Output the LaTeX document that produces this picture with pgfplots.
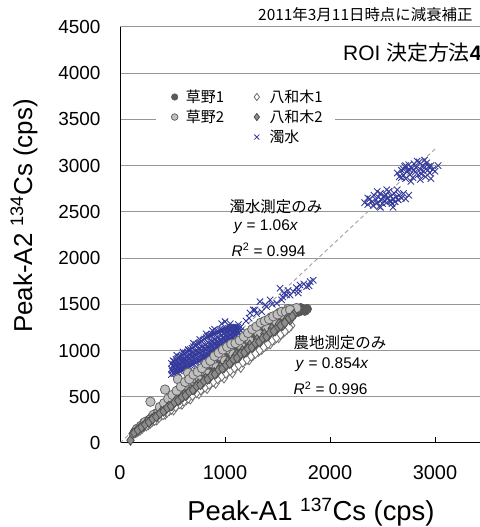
\documentclass[border=0pt]{standalone}
\usepackage{pgfplots}
\pgfplotsset{compat=1.18}
\usepackage{fontspec}
\setmainfont{Liberation Sans}
\newfontfamily\jp{Noto Sans CJK JP}
\definecolor{cblue}{RGB}{52,58,155}
\definecolor{gridgray}{RGB}{150,150,150}
\definecolor{dashgray}{RGB}{160,160,160}
\definecolor{kfill}{RGB}{90,90,90}
\definecolor{kedge}{RGB}{85,85,85}
\definecolor{lfill}{RGB}{192,192,192}
\definecolor{ledge}{RGB}{100,100,100}
\definecolor{dfill}{RGB}{140,140,140}
\definecolor{dedge}{RGB}{80,80,80}
\definecolor{wedge}{RGB}{110,110,110}
\begin{document}
\begin{tikzpicture}
\path[use as bounding box] (0,0) rectangle (480bp,527bp);
\clip (0,0) rectangle (480bp,527bp);
\begin{axis}[
  at={(120bp,84bp)}, anchor=south west,
  scale only axis, width=367.5bp, height=416bp,
  xmin=0, xmax=3500, ymin=0, ymax=4500,
  axis lines=left, axis line style={-, black, line width=1bp},
  xtick={0,1000,2000,3000}, ytick={0,500,...,4500},
  xtick align=inside, major tick length=6bp,
  x tick style={black, line width=0.8bp},
  y tick style={draw=none},
  ymajorgrids, grid style={color=gridgray, line width=1bp},
  /pgf/number format/assume math mode=true,
  /pgf/number format/1000 sep={},
  xticklabel style={font=\fontsize{20}{20}\selectfont, yshift=-19bp},
  yticklabel style={font=\fontsize{19}{19}\selectfont, xshift=-13bp},
  legend columns=2, legend cell align=left,
  legend style={at={(rel axis cs:0.0979,0.8587)}, anchor=north west, draw=none, fill=white,
    font=\jp\fontsize{15}{18}\selectfont, inner xsep=10bp, inner ysep=2bp, row sep=2bp,
    /tikz/every even column/.append style={column sep=28bp}},
]
% trend line
\addplot[forget plot, dashgray, dash pattern=on 4bp off 3bp, line width=0.9bp] coordinates {(0,0) (3020,3201)};
% 濁水
\addplot[forget plot, only marks, mark=x, mark size=4.5bp, cblue, line width=0.9bp] coordinates {
(490,740)(490,800)(490,860)(505,755)(505,830)(505,890)(520,750)(520,815)(520,880)(535,770)(535,845)(535,905)
(550,765)(550,830)(550,915)(565,780)(565,860)(565,930)(580,790)(580,850)(580,935)(595,795)(595,880)(595,950)
(610,800)(610,870)(610,960)(625,815)(625,900)(625,975)(640,820)(640,890)(640,985)(655,830)(655,920)(655,1000)
(670,840)(670,910)(670,1010)(685,850)(685,945)(685,1025)(700,855)(700,930)(700,1040)(715,870)(715,965)(715,1050)
(730,875)(730,950)(730,1065)(745,890)(745,985)(745,1075)(760,895)(760,970)(760,1090)(775,905)(775,1005)(775,1100)
(790,915)(790,990)(790,1115)(805,925)(805,1025)(805,1125)(820,935)(820,1010)(820,1140)(835,945)(835,1045)(835,1150)
(850,955)(850,1030)(850,1160)(865,970)(865,1065)(865,1165)(880,980)(880,1050)(880,1175)(895,990)(895,1085)(895,1180)
(910,1000)(910,1070)(910,1190)(925,1010)(925,1105)(925,1200)(940,1020)(940,1090)(940,1205)(955,1035)(955,1120)(955,1215)
(970,1045)(970,1110)(970,1220)(985,1060)(985,1140)(985,1225)(1000,1070)(1000,1130)(1000,1230)(1015,1085)(1015,1160)(1015,1235)
(1030,1095)(1030,1150)(1030,1240)(1045,1110)(1045,1175)(1045,1245)(1060,1125)(1060,1170)(1060,1250)(1075,1140)(1075,1195)(1075,1250)
(1090,1155)(1090,1190)(1090,1255)(1105,1170)(1105,1215)(1105,1255)(1120,1185)(1120,1210)(1120,1250)(1135,1200)(1135,1240)(1150,1215)(1150,1255)
(497,780)(512,850)(527,790)(542,880)(557,800)(572,895)(587,820)(602,910)(617,840)(632,935)(647,860)(662,955)
(677,880)(692,975)(707,900)(722,995)(737,915)(752,1020)(767,935)(782,1040)(797,950)(812,1060)(827,970)(842,1085)
(857,990)(872,1100)(887,1015)(902,1120)(917,1040)(932,1140)(947,1060)(962,1160)(977,1080)(992,1180)(1007,1100)(1022,1195)
(1037,1120)(1052,1210)(1067,1145)(1082,1220)(1097,1170)(1112,1235)(1127,1190)
(540,950)(600,985)(650,1010)(700,1080)(760,1120)(820,1180)(880,1215)(900,1230)(968,1290)(1000,1313)(1050,1290)(1127,1280)
(1200,1320)(1230,1350)(1238,1407)(1270,1439)(1286,1439)(1300,1400)(1333,1529)(1350,1420)(1381,1494)(1397,1475)(1429,1548)
(1450,1500)(1492,1512)(1524,1674)(1540,1548)(1550,1580)(1560,1620)(1587,1602)(1600,1650)(1620,1600)(1651,1638)(1680,1680)
(1698,1623)(1700,1660)(1714,1710)(1750,1720)(1778,1692)(1800,1700)(1810,1746)(1840,1760)
(2330,2600)(2360,2580)(2380,2640)(2400,2610)(2410,2570)(2420,2680)(2440,2630)(2450,2600)(2460,2660)(2470,2560)
(2480,2700)(2490,2630)(2500,2590)(2510,2660)(2520,2620)(2530,2690)(2540,2600)(2550,2650)(2560,2720)(2570,2620)
(2580,2670)(2590,2590)(2600,2640)(2610,2700)(2620,2610)(2630,2660)(2640,2740)(2650,2630)(2660,2680)(2680,2650)
(2700,2700)(2720,2640)(2750,2680)(2480,2550)(2600,2550)(2540,2740)(2450,2720)(2580,2610)(2520,2670)(2360,2650)
(2640,2920)(2660,2880)(2680,2950)(2700,2900)(2710,2990)(2720,2860)(2740,2940)(2750,3010)(2760,2900)(2780,2970)
(2790,2870)(2800,3020)(2810,2930)(2820,2980)(2840,2900)(2850,3040)(2860,2960)(2870,2910)(2880,3000)(2890,2940)
(2900,2980)(2910,2880)(2920,3030)(2930,2950)(2940,2990)(2950,2920)(2960,3000)(2980,2960)(3000,2940)(3030,3000)
(2770,2830)(2830,3050)(2720,3000)(2860,2850)(2700,2960)(2960,2860)(2800,2950)(2750,2960)(2900,3060)(2680,2870)
};
% 草野1
\addplot[forget plot, only marks, mark=*, mark size=4.7bp, draw=kedge, fill=kfill, line width=0.6bp] coordinates {
(140,115)(170,156)(200,172)(230,218)(260,208)(290,258)(320,262)(350,322)(380,327)(410,389)(440,352)(470,418)
(500,410)(530,488)(560,482)(590,560)(620,496)(650,579)(680,558)(710,653)(740,636)(770,731)(800,640)(830,739)
(860,705)(890,819)(920,791)(950,903)(980,784)(1010,899)(1040,853)(1070,984)(1100,946)(1130,1074)(1160,928)
(1190,1059)(1220,1000)(1250,1150)(1280,1101)(1310,1245)(1340,1072)(1370,1219)(1400,1148)(1430,1316)(1460,1256)
(1490,1380)(1520,1260)(1550,1380)(1580,1330)(1610,1420)(1640,1380)(1670,1440)(1700,1420)(1720,1460)(1740,1440)
(1760,1430)(1780,1450)
(155,135)(185,165)(215,195)(245,225)(275,240)(305,280)(335,300)(365,330)(395,350)(425,385)(455,400)(485,440)
(515,450)(545,490)(575,505)(605,545)(635,560)(665,600)(695,610)(725,650)(755,665)(785,710)(815,720)(845,760)
(875,775)(905,815)(935,830)(965,870)(995,880)(1025,925)(1055,935)(1085,975)(1115,985)(1145,1030)(1175,1040)
(1205,1085)(1235,1090)(1265,1135)(1295,1145)(1325,1190)(1355,1195)(1385,1235)(1415,1245)(1445,1290)(1475,1295)
(1505,1330)(1535,1335)(1565,1365)(1595,1370)(1625,1400)(1655,1405)
};
% 草野2
\addplot[forget plot, only marks, mark=*, mark size=4.7bp, draw=ledge, fill=lfill, line width=0.8bp] coordinates {
(160,150)(200,185)(240,228)(280,250)(290,447)(320,305)(360,320)(400,388)(429,578)(440,400)(480,460)(520,462)
(552,690)(560,540)(600,540)(640,620)(648,758)(680,605)(720,700)(760,680)(800,780)(840,750)(880,860)(920,820)
(960,935)(1000,890)(1040,1010)(1080,960)(1124,1100)(1160,1040)(1200,1160)(1240,1100)(1280,1230)(1320,1180)
(1360,1290)(1400,1240)(1440,1360)(1480,1320)(1520,1410)(1560,1380)(1600,1450)(1640,1430)(1680,1460)
(380,390)(420,430)(460,480)(500,520)(540,565)(580,610)(620,660)(660,690)(700,740)(740,770)(780,810)(820,860)
(860,890)(900,940)(940,975)(980,1010)(1020,1040)(1060,1070)(1100,1080)(1140,1110)(1180,1150)(1220,1190)
(1260,1230)(1300,1260)(1340,1300)(1380,1320)(1420,1340)(1460,1370)(1500,1390)(1540,1420)(1580,1420)(1620,1440)
};
% 八和木1
\addplot[forget plot, only marks, mark=diamond*, mark size=5bp, draw=wedge, fill=white, line width=0.8bp] coordinates {
(150,112)(190,137)(230,179)(270,197)(310,236)(350,249)(390,300)(430,310)(470,352)(510,357)(550,418)(590,419)
(630,466)(670,476)(710,540)(750,533)(790,592)(830,590)(870,653)(910,646)(950,713)(990,703)(1030,773)(1070,760)
(1110,832)(1150,817)(1190,893)(1230,900)(1270,953)(1317,990)(1350,1013)(1390,1050)(1430,1072)(1470,1120)
(1510,1140)(1550,1190)(1590,1230)(1630,1270)
(170,125)(210,155)(250,185)(290,215)(330,245)(370,275)(410,305)(450,335)(490,365)(530,395)(570,425)(610,455)
(650,485)(690,515)(730,545)(770,575)(810,605)(850,635)(890,665)(930,695)(970,725)(1010,755)(1050,785)(1090,815)
(1130,845)(1170,875)(1210,905)(1250,940)(1290,970)(1330,1005)(1370,1040)(1410,1075)(1450,1110)(1490,1140)
(1530,1175)(1570,1210)(1610,1250)
};
% 八和木2
\addplot[forget plot, only marks, mark=diamond*, mark size=5bp, draw=dedge, fill=dfill, line width=0.8bp] coordinates {
(100,30)(120,100)(150,122)(185,160)(220,180)(255,229)(290,238)(300,260)(325,280)(360,295)(395,340)(430,353)
(465,400)(500,410)(535,465)(570,467)(600,500)(605,520)(640,525)(675,580)(710,582)(745,640)(780,640)(815,700)
(850,697)(885,760)(900,760)(920,755)(955,820)(990,812)(1025,880)(1060,870)(1095,940)(1130,927)(1165,1000)
(1200,984)(1200,1010)(1235,1060)(1270,1041)(1305,1120)(1340,1100)(1375,1180)(1410,1156)(1445,1240)(1480,1214)
(1500,1250)(1515,1290)(1550,1271)(1585,1340)(1620,1330)(1655,1390)
(135,110)(170,140)(205,170)(240,200)(275,225)(310,260)(345,285)(380,320)(415,345)(450,380)(485,400)(520,440)
(555,460)(590,495)(625,515)(660,555)(695,575)(730,615)(765,630)(800,670)(835,690)(870,730)(905,745)(940,790)
(975,805)(1010,845)(1045,860)(1080,905)(1115,920)(1150,965)(1185,980)(1220,1020)(1255,1035)(1290,1080)
(1325,1095)(1360,1135)(1395,1150)(1430,1195)(1465,1210)(1530,1270)(1570,1300)(1610,1350)(1640,1370)
};
% legend
\addlegendimage{only marks, mark=*, mark size=3.3bp, draw=kedge, fill=kfill}
\addlegendentry{\hspace{6bp}草野1}
\addlegendimage{only marks, mark=diamond*, mark size=3.6bp, draw=wedge, fill=white, line width=0.8bp}
\addlegendentry{\hspace{8bp}八和木1}
\addlegendimage{only marks, mark=*, mark size=3.3bp, draw=ledge, fill=lfill, line width=0.8bp}
\addlegendentry{\hspace{6bp}草野2}
\addlegendimage{only marks, mark=diamond*, mark size=3.6bp, draw=dedge, fill=dfill, line width=0.8bp}
\addlegendentry{\hspace{8bp}八和木2}
\addlegendimage{empty legend}
\addlegendentry{}
\addlegendimage{only marks, mark=x, mark size=3.5bp, cblue, line width=0.8bp}
\addlegendentry{\hspace{8bp}濁水}
% annotations
\node[anchor=west, font=\fontsize{15.5}{18}\selectfont] at (axis cs:1010,2554) {\jp 濁水測定のみ};
\node[anchor=west, font=\fontsize{15.5}{18}\selectfont] at (axis cs:1050,2338) {\textit{y} = 1.06\textit{x}};
\node[anchor=west, font=\fontsize{15.5}{18}\selectfont] at (axis cs:1030,2089) {\textit{R}\textsuperscript{2} = 0.994};
\node[anchor=west, font=\fontsize{15.5}{18}\selectfont] at (axis cs:1620,1082) {\jp 農地測定のみ};
\node[anchor=west, font=\fontsize{15.5}{18}\selectfont] at (axis cs:1640,844) {\textit{y} = 0.854\textit{x}};
\node[anchor=west, font=\fontsize{15.5}{18}\selectfont] at (axis cs:1620,595) {\textit{R}\textsuperscript{2} = 0.996};
\end{axis}
\node[anchor=west, font=\fontsize{15.5}{17}\selectfont, inner sep=0pt] at (258bp,512bp) {\jp 2011年3月11日時点に減衰補正};
\node[anchor=west, font=\fontsize{21}{24}\selectfont, inner sep=0pt] at (343bp,474bp) {ROI {\jp 決定方法}\textbf{4}};
\node[anchor=base, font=\fontsize{27.5}{30}\selectfont, inner sep=0pt] at (311bp,7bp) {Peak-A1 \textsuperscript{137}Cs (cps)};
\node[anchor=base, rotate=90, font=\fontsize{26}{30}\selectfont, inner sep=0pt] at (32bp,311bp) {Peak-A2 \textsuperscript{134}Cs (cps)};
\end{tikzpicture}
\end{document}
